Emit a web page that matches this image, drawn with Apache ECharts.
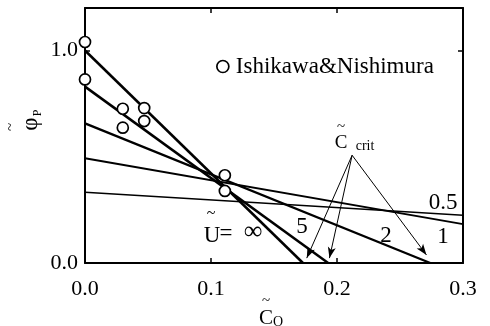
<!DOCTYPE html>
<html>
<head>
<meta charset="utf-8">
<script src="https://cdn.jsdelivr.net/npm/echarts@6/dist/echarts.min.js"></script>
<style>
html, body { margin: 0; padding: 0; background: #fff; }
#chart { width: 490px; height: 326px; }
</style>
</head>
<body>
<div id="chart"></div>
<script>
const SERIF = '"Liberation Serif", "Times New Roman", serif';

// Straight lines for each U value: start point and end point [C0, phi]
const uNames = ['∞', '5', '2', '1', '0.5'];
const lineStart = [[0, 1.0], [0, 0.83], [0, 0.657], [0, 0.493], [0, 0.333]];
const lineEnd = [[0.173, 0], [0.193, 0], [0.274, 0], [0.3, 0.183], [0.3, 0.225]];
const lineWidths = [2.5, 2.5, 2.3, 2.0, 1.5];

// Measured points (Ishikawa & Nishimura)
const obsC = [0, 0, 0.030, 0.030, 0.047, 0.047, 0.111, 0.111];
const obsPhi = [1.04, 0.864, 0.726, 0.637, 0.729, 0.668, 0.413, 0.339];

// C_crit annotation: arrows from one point to each x-intercept
const arrowFrom = [0.212, 0.507];
const arrowTo = [[0.176, 0.023], [0.194, 0.023], [0.271, 0.038]];

// Axis ticks
const xTickValues = [0, 0.1, 0.2, 0.3];
const yTickValues = [0, 1];

const chart = echarts.init(document.getElementById('chart'), null, { renderer: 'canvas' });

const lineSeries = uNames.map((name, i) => ({
  name: 'U=' + name,
  type: 'line',
  data: [lineStart[i], lineEnd[i]],
  showSymbol: false,
  symbol: 'none',
  lineStyle: { color: '#000', width: lineWidths[i] },
  z: 3,
  silent: true,
  animation: false
}));

const arrowSeries = {
  name: 'crit',
  type: 'line',
  data: [],
  animation: false,
  markLine: {
    silent: true,
    animation: false,
    symbol: ['none', 'arrow'],
    symbolSize: [0, 10],
    label: { show: false },
    lineStyle: { color: '#000', width: 1, type: 'solid' },
    data: arrowTo.map(p => [
      { coord: arrowFrom, symbol: 'none' },
      { coord: p, symbol: 'arrow', symbolSize: [6, 11] }
    ])
  }
};

const obsSeries = {
  name: 'Ishikawa&Nishimura',
  type: 'scatter',
  data: obsC.map((c, i) => [c, obsPhi[i]]),
  symbol: 'circle',
  symbolSize: 11,
  itemStyle: { color: '#fff', borderColor: '#000', borderWidth: 1.7, opacity: 1 },
  z: 5,
  animation: false
};

const text = (x, y, str, size, extra) => Object.assign({
  type: 'text',
  x: x, y: y,
  style: {
    text: str,
    font: size + 'px ' + SERIF,
    fill: '#000',
    textAlign: 'center',
    textVerticalAlign: 'middle',
    align: 'center',
    verticalAlign: 'middle'
  },
  z: 10
}, extra || {});

const option = {
  backgroundColor: '#fff',
  animation: false,
  grid: { left: 85, right: 27, top: 8, bottom: 63, show: false },
  legend: {
    data: [{ name: 'Ishikawa&Nishimura', icon: 'circle' }],
    left: 211,
    top: 50,
    itemWidth: 12,
    itemHeight: 12,
    itemStyle: { color: '#fff', borderColor: '#000', borderWidth: 1.7 },
    textStyle: { fontFamily: SERIF, fontSize: 23, color: '#000', padding: [0, 0, 0, 2] },
    selectedMode: false
  },
  xAxis: [{
    type: 'value',
    min: 0, max: 0.3, interval: 0.1,
    position: 'bottom',
    axisLine: { show: true, onZero: false, lineStyle: { color: '#000', width: 2 } },
    axisTick: { show: true, inside: true, length: 5, lineStyle: { color: '#000', width: 1.5 } },
    axisLabel: {
      show: true, margin: 15, color: '#000', fontFamily: SERIF, fontSize: 22,
      customValues: xTickValues,
      formatter: v => v.toFixed(1)
    },
    splitLine: { show: false }
  }, {
    type: 'value',
    min: 0, max: 0.3, interval: 0.1,
    position: 'top',
    axisLine: { show: true, onZero: false, lineStyle: { color: '#000', width: 2 } },
    axisTick: { show: true, inside: true, length: 5, lineStyle: { color: '#000', width: 1.5 } },
    axisLabel: { show: false },
    splitLine: { show: false }
  }],
  yAxis: [{
    type: 'value',
    min: 0, max: 1.2,
    position: 'left',
    axisLine: { show: true, onZero: false, lineStyle: { color: '#000', width: 2 } },
    axisTick: { show: true, inside: true, length: 5, customValues: yTickValues, lineStyle: { color: '#000', width: 1.5 } },
    axisLabel: {
      show: true, margin: 7, color: '#000', fontFamily: SERIF, fontSize: 22,
      customValues: yTickValues,
      formatter: v => v.toFixed(1)
    },
    splitLine: { show: false }
  }, {
    type: 'value',
    min: 0, max: 1.2,
    position: 'right',
    axisLine: { show: true, onZero: false, lineStyle: { color: '#000', width: 2 } },
    axisTick: { show: true, inside: true, length: 5, customValues: yTickValues, lineStyle: { color: '#000', width: 1.5 } },
    axisLabel: { show: false },
    splitLine: { show: false }
  }],
  series: lineSeries.concat([arrowSeries, obsSeries]),
  graphic: [
    // line labels
    text(443, 203, '0.5', 23),
    text(443, 237, '1', 23),
    text(386, 236, '2', 23),
    text(302, 227, '5', 23),
    text(212, 236, 'U', 23),
    text(226, 234, '=', 23),
    text(253, 232, '∞', 26),
    text(211, 214, '~', 16),
    // C_crit label
    text(341, 143, 'C', 19),
    text(365, 146, 'crit', 14),
    text(341, 127, '~', 15),
    // x-axis name
    text(266, 318, 'C', 21),
    text(278, 322, 'O', 14),
    text(266, 301, '~', 15),
    // y-axis name (rotated)
    {
      type: 'group',
      x: 31, y: 124,
      rotation: Math.PI / 2,
      children: [
        text(0, 0, 'φ', 23),
        text(11, 7, 'P', 12),
        text(-3, -20, '~', 15)
      ]
    }
  ]
};

chart.setOption(option);
</script>
</body>
</html>
